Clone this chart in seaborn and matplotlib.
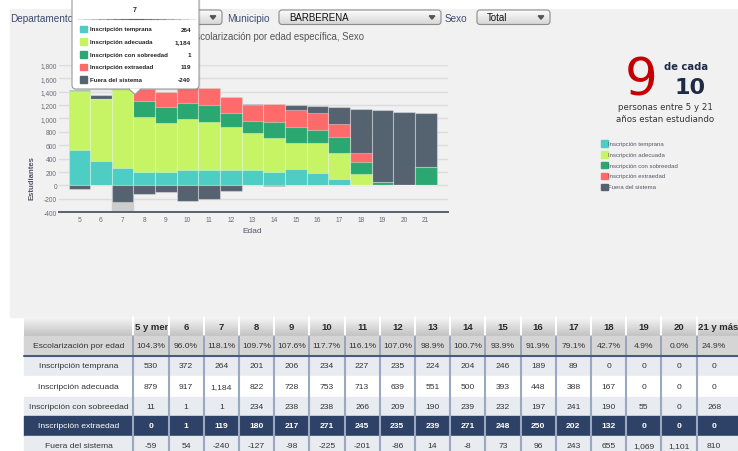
import numpy as np
import pandas as pd
import seaborn as sns
import matplotlib.pyplot as plt
import matplotlib.colors as mcolors
from matplotlib.patches import Rectangle, FancyBboxPatch, Polygon
from matplotlib.ticker import FuncFormatter
from matplotlib.transforms import Bbox, TransformedBbox

# datos
edades = ["5", "6", "7", "8", "9", "10", "11", "12", "13", "14", "15", "16", "17", "18", "19", "20", "21"]
columnas = ["5 y menos", "6", "7", "8", "9", "10", "11", "12", "13", "14", "15", "16", "17", "18", "19", "20", "21 y más"]
escolarizacion = ["104.3%", "96.0%", "118.1%", "109.7%", "107.6%", "117.7%", "116.1%", "107.0%", "98.9%",
                  "100.7%", "93.9%", "91.9%", "79.1%", "42.7%", "4.9%", "0.0%", "24.9%"]
temprana = [530, 372, 264, 201, 206, 234, 227, 235, 224, 204, 246, 189, 89, 0, 0, 0, 0]
adecuada = [879, 917, 1184, 822, 728, 753, 713, 639, 551, 500, 393, 448, 388, 167, 0, 0, 0]
sobreedad = [11, 1, 1, 234, 238, 238, 266, 209, 190, 239, 232, 197, 241, 190, 55, 0, 268]
extraedad = [0, 1, 119, 180, 217, 271, 245, 235, 239, 271, 248, 250, 202, 132, 0, 0, 0]
fuera = [-59, 54, -240, -127, -98, -225, -201, -86, 14, -8, 73, 96, 243, 655, 1069, 1101, 810]
nombres = ["Inscripción temprana", "Inscripción adecuada", "Inscripción con sobreedad",
           "Inscripción extraedad", "Fuera del sistema"]
colores = ["#4ECDC4", "#C7F464", "#2BA872", "#FF6B6B", "#556270"]
edad_tooltip = "7"

W, H = 738, 452
sns.set_theme(style="white")
plt.rcParams['font.family'] = ['Liberation Sans', 'DejaVu Sans']

fig = plt.figure(figsize=(W / 100, H / 100), dpi=100)
fig.patch.set_facecolor("white")

# fondo en pixeles
bg = fig.add_axes([0, 0, 1, 1], zorder=0)
bg.axis("off")
bg.add_patch(Rectangle((10, 10), W - 10, 308, color="#f1f1f1", zorder=0))


def gradient(axx, x0, y0, x1, y1, top, bottom, z=1):
    g = np.linspace(0, 1, 40)[:, None, None]
    c0 = np.array(mcolors.to_rgb(top))
    c1 = np.array(mcolors.to_rgb(bottom))
    img = c0 + (c1 - c0) * g
    return axx.imshow(img, extent=[x0, x1, y1, y0], aspect="auto", zorder=z, interpolation="bilinear")


def dropdown(x0, x1, texto):
    caja = FancyBboxPatch((x0, 11), x1 - x0, 14.5, boxstyle="round,pad=0,rounding_size=3",
                          fc="none", ec="#8c8c8c", lw=0.8, zorder=3)
    bg.add_patch(caja)
    im = gradient(bg, x0, 11, x1, 25.5, "#fdfdfd", "#d4d4d4", z=2)
    im.set_clip_path(caja)
    ax_ = x1 - 9
    bg.add_patch(Polygon([(ax_ - 2.8, 16.8), (ax_ + 2.8, 16.8), (ax_, 20.2)], color="#555555", zorder=4))
    if texto:
        bg.text(x0 + 10, 18.2, texto, fontsize=7, color="#111111", va="center", zorder=4)


bg.text(10.5, 18.5, "Departamento", fontsize=7.2, color="#3d4b6e", va="center")
dropdown(78, 222, "")
bg.text(227, 18.5, "Municipio", fontsize=7.2, color="#3d4b6e", va="center")
dropdown(279, 441, "BARBERENA")
bg.text(445, 18.5, "Sexo", fontsize=7.2, color="#3d4b6e", va="center")
dropdown(477, 550, "Total")

bg.text(189, 37, "Escolarización por edad específica, Sexo", fontsize=6.9, color="#555555", va="center")

# 9 de cada 10
bg.text(641, 95, "9", fontsize=37, color="#c40000", ha="center", va="baseline", family="DejaVu Sans")
bg.text(686, 67, "de cada", fontsize=7.2, color="#1f2a44", ha="center", va="center",
        weight="bold", family="DejaVu Sans")
bg.text(690, 93.5, "10", fontsize=16, color="#1f2a44", ha="center", va="baseline",
        weight="bold", family="DejaVu Sans")
bg.text(665, 108, "personas entre 5 y 21", fontsize=6.2, color="#333333", ha="center", va="center",
        family="DejaVu Sans")
bg.text(665, 120, "años estan estudiando", fontsize=6.2, color="#333333", ha="center", va="center",
        family="DejaVu Sans")

# leyenda
for k, (nom, col) in enumerate(zip(nombres, colores)):
    yy = 144.3 + k * 10.9
    bg.add_patch(Rectangle((601, yy - 3.3), 6.5, 6.6, color=col))
    bg.text(608.5, yy, nom, fontsize=4.3, color="#555566", va="center")

# tabla
col_x = [24] + [133.3 + 35.2 * k for k in range(17)] + [W + 20]
row_y = [318, 337, 357, 377, 397.5, 417, 437, 457]
gradient(bg, 24, 318, W, 337, "#f6f6f6", "#c2c2c2", z=1)
bg.add_patch(Rectangle((24, 337), W - 24, 20, color="#d5d5d5", zorder=1))
fondos = ["#e8ebf0", "#ffffff", "#e8ebf0", "#2e4166", "#e8ebf0"]
for k, f in enumerate(fondos):
    bg.add_patch(Rectangle((24, row_y[k + 2]), W - 24, row_y[k + 3] - row_y[k + 2], color=f, zorder=1))
for xv in col_x[1:-1]:
    bg.plot([xv, xv], [318, 337], color="white", lw=1.5, zorder=2)
    bg.plot([xv, xv], [337, 357], color="#8f9cb6", lw=1.2, zorder=2)
    bg.plot([xv, xv], [357, 457], color="#9ba8c2", lw=1.5, zorder=2)
bg.plot([24, W], [357, 357], color="#4a5a7c", lw=1.5, zorder=3)

for j, c in enumerate(columnas):
    x0, x1 = col_x[j + 1], col_x[j + 2]
    if len(c) > 3:
        t = bg.text(x0 + 2, 327.5, c, fontsize=6.8, weight="bold", color="#2a2a2a", ha="left", va="center", zorder=4)
        t.set_clip_on(True)
        t.set_clip_box(TransformedBbox(Bbox.from_extents(x0 + 1, 318, x1 - 1, 337), bg.transData))
    else:
        bg.text((x0 + x1) / 2, 327.5, c, fontsize=6.8, weight="bold", color="#2a2a2a", ha="center", va="center", zorder=4)

filas = [("Escolarización por edad", escolarizacion)]
for nom, vals in zip(nombres, [temprana, adecuada, sobreedad, extraedad, fuera]):
    filas.append((nom, [f"{v:,}" for v in vals]))
for i, (nom, vals) in enumerate(filas):
    yc = (row_y[i + 1] + row_y[i + 2]) / 2
    oscuro = i == 4
    tc = "white" if oscuro else "#333333"
    bg.text(78.6, yc, nom, fontsize=6.1, color=tc, ha="center", va="center", zorder=4)
    for j, v in enumerate(vals):
        xc = (col_x[j + 1] + min(col_x[j + 2], col_x[j + 1] + 35.2)) / 2
        bg.text(xc, yc, v, fontsize=6.1, color=tc, ha="center", va="center",
                weight="bold" if oscuro else "normal", zorder=4)

bg.set_xlim(0, W)
bg.set_ylim(H, 0)

# grafico de barras apiladas
ax = fig.add_axes([59 / W, 1 - 213.3 / H, (448 - 59) / W, (213.3 - 65.7) / H], zorder=1)
ax.set_facecolor("none")
df = pd.DataFrame({"edad": edades, "temprana": temprana, "adecuada": adecuada,
                   "sobreedad": sobreedad, "extraedad": extraedad, "fuera": fuera})
pos = df["fuera"].clip(lower=0)
neg = df["fuera"].clip(upper=0)
c1 = df["temprana"]
c2 = c1 + df["adecuada"]
c3 = c2 + df["sobreedad"]
c4 = c3 + df["extraedad"]
c5 = c4 + pos

i7 = edades.index(edad_tooltip)
ax.axvspan(i7 - 0.5, i7 + 0.5, color="#cdcdcd", zorder=0.2)

capas = [(c5, colores[4]), (c4, colores[3]), (c3, colores[2]), (c2, colores[1]), (c1, colores[0]), (neg, colores[4])]
for valores, col in capas:
    sns.barplot(x=df["edad"], y=valores.values, order=edades, color=col, saturation=1, width=1,
                errorbar=None, edgecolor=(1, 1, 1, 0.35), linewidth=0.8, ax=ax, zorder=2)

ax.set_ylim(-400, 1800)
ax.set_xlim(-0.94, 17.03)
ax.set_yticks(range(-400, 1801, 200))
ax.yaxis.set_major_formatter(FuncFormatter(lambda v, p: f"{v:,.0f}"))
ax.set_axisbelow(True)
ax.yaxis.grid(True, color="#dcdcdc", lw=1.0)
ax.xaxis.grid(False)
for s in ["top", "right", "left"]:
    ax.spines[s].set_visible(False)
ax.spines["bottom"].set_color("#556270")
ax.spines["bottom"].set_linewidth(1.4)
ax.tick_params(axis="both", length=0, labelsize=4.8, labelcolor="#6a6a78")
ax.tick_params(axis="x", pad=2.5)
ax.tick_params(axis="y", pad=1.5)
ax.set_xlabel("")
ax.set_ylabel("")
bg.text(32.5, 178, "Estudiantes", fontsize=5.6, color="#555566", rotation=90, ha="center", va="center", weight="bold")
bg.text(252, 232, "Edad", fontsize=6, color="#555566", ha="center", va="center")

# tooltip
ov = fig.add_axes([0, 0, 1, 1], zorder=5)
ov.axis("off")
ov.add_patch(FancyBboxPatch((73.5, -10), 127, 101.5, boxstyle="round,pad=0,rounding_size=4",
                            fc="#000000", ec="none", alpha=0.08))
ov.add_patch(FancyBboxPatch((72, -10), 127, 100, boxstyle="round,pad=0,rounding_size=4",
                            fc="white", ec="#9a9a9a", lw=0.8))
ov.add_patch(Polygon([(129, 89.4), (135, 95.5), (141, 89.4)], closed=True, fc="white", ec="none"))
ov.plot([129, 135, 141], [90, 95.5, 90], color="#9a9a9a", lw=0.8)
ov.text(135, 11, edad_tooltip, fontsize=5, weight="bold", color="#222222", ha="center", va="center")
for k, a in enumerate(np.linspace(0.15, 0.9, 8)):
    ov.plot([77 + k * 7.4, 84.4 + k * 7.4], [20, 20], color="#555555", alpha=a, lw=0.8)
    ov.plot([195 - k * 7.4, 187.6 - k * 7.4], [20, 20], color="#555555", alpha=a, lw=0.8)
vals7 = [temprana[i7], adecuada[i7], sobreedad[i7], extraedad[i7], fuera[i7]]
for k, (nom, col, v) in enumerate(zip(nombres, colores, vals7)):
    yy = 30 + k * 12.6
    ov.add_patch(Rectangle((80, yy - 3.2), 6.5, 6.5, color=col))
    ov.text(90, yy, nom, fontsize=4.4, weight="bold", color="#222222", va="center")
    ov.text(191, yy, f"{v:,}", fontsize=4.6, weight="bold", color="#222222", ha="right", va="center")
ov.set_xlim(0, W)
ov.set_ylim(H, 0)

fig.savefig("out.png", dpi=100)
